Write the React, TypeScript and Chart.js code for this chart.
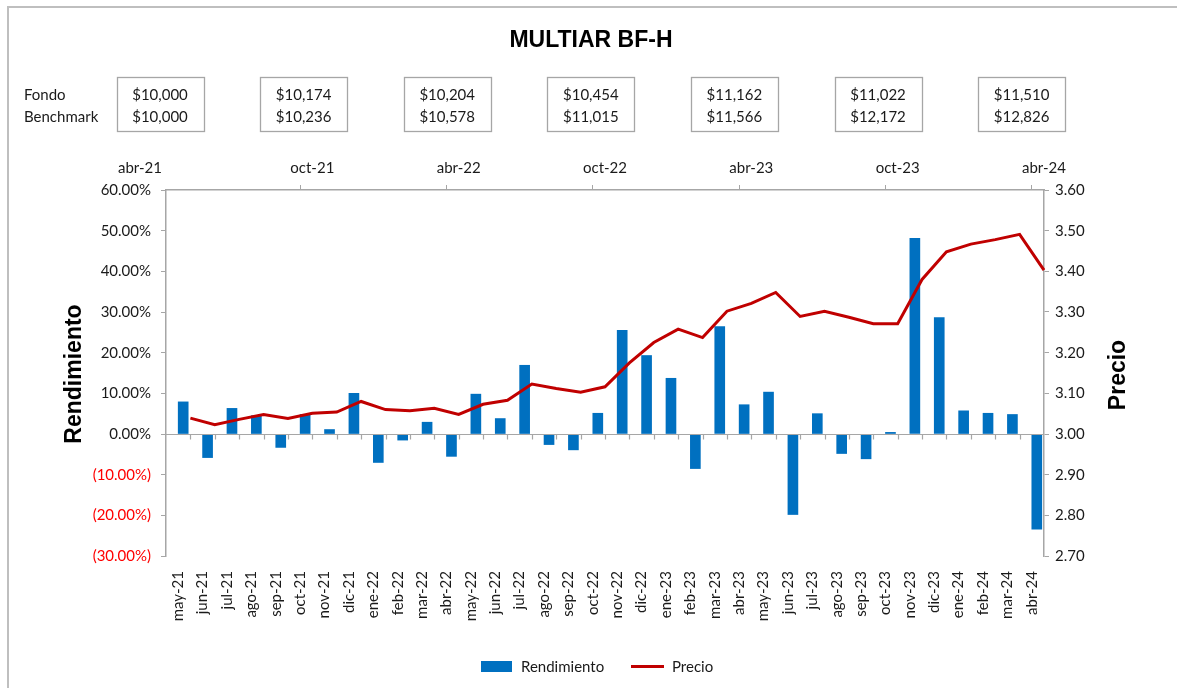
import React, { useEffect, useRef } from "react";
import { Chart, registerables } from "chart.js";

Chart.register(...registerables);

const chartTitle = "MULTIAR BF-H";
const months = [
  "may-21", "jun-21", "jul-21", "ago-21", "sep-21", "oct-21", "nov-21", "dic-21",
  "ene-22", "feb-22", "mar-22", "abr-22", "may-22", "jun-22", "jul-22", "ago-22",
  "sep-22", "oct-22", "nov-22", "dic-22", "ene-23", "feb-23", "mar-23", "abr-23",
  "may-23", "jun-23", "jul-23", "ago-23", "sep-23", "oct-23", "nov-23", "dic-23",
  "ene-24", "feb-24", "mar-24", "abr-24",
];
const startMonth = "abr-21";
const topAxisLabels = [startMonth, ...months];

const rendimiento = [
  0.079, -0.058, 0.063, 0.045, -0.033, 0.048, 0.011, 0.1, -0.07, -0.015, 0.029, -0.055,
  0.098, 0.038, 0.169, -0.026, -0.039, 0.051, 0.255, 0.193, 0.137, -0.085, 0.264, 0.072,
  0.103, -0.198, 0.05, -0.048, -0.061, 0.004, 0.481, 0.286, 0.057, 0.051, 0.048, -0.234,
];
const precio = [
  3.039, 3.023, 3.036, 3.048, 3.038, 3.051, 3.054, 3.08, 3.06, 3.057, 3.063, 3.048,
  3.073, 3.083, 3.123, 3.112, 3.103, 3.116, 3.175, 3.225, 3.258, 3.237, 3.302, 3.321,
  3.348, 3.289, 3.302, 3.287, 3.271, 3.271, 3.38, 3.448, 3.467, 3.478, 3.491, 3.403,
];

const boxDates = ["abr-21", "oct-21", "abr-22", "oct-22", "abr-23", "oct-23", "abr-24"];
const fondoValues = [10000, 10174, 10204, 10454, 11162, 11022, 11510];
const benchmarkValues = [10000, 10236, 10578, 11015, 11566, 12172, 12826];
const rowLabels = ["Fondo", "Benchmark"];

const yLeftTicks = { min: -0.3, max: 0.6, step: 0.1 };
const yRightTicks = { min: 2.7, max: 3.6, step: 0.1 };

const W = 1177;
const H = 688;
const BLUE = "#0070C0";
const RED = "#C00000";
const AXIS = "#a6a6a6";
const TXT = "#1a1a1a";
const FONT = "Lato";
const BOLD = "'Liberation Sans', Arial, sans-serif";

const money = (v: number) => "$" + v.toLocaleString("en-US");

const decorPlugin = {
  id: "decor",
  beforeDraw(chart: any) {
    const ctx = chart.ctx;
    ctx.save();
    ctx.fillStyle = "#fff";
    ctx.fillRect(0, 0, W, H);
    ctx.strokeStyle = "#bfbfbf";
    ctx.lineWidth = 2;
    ctx.beginPath();
    ctx.moveTo(8, H);
    ctx.lineTo(8, 7);
    ctx.lineTo(W, 7);
    ctx.stroke();
    ctx.restore();
  },
  afterDatasetsDraw(chart: any) {
    const ctx = chart.ctx;
    const x = chart.scales.x;
    const y = chart.scales.y;
    const area = chart.chartArea;
    const y0 = Math.round(y.getPixelForValue(0)) + 0.5;
    ctx.save();
    ctx.strokeStyle = AXIS;
    ctx.lineWidth = 1.2;
    ctx.beginPath();
    ctx.moveTo(area.left, y0);
    ctx.lineTo(area.right, y0);
    for (let i = 1; i < months.length; i++) {
      const px = (x.getPixelForValue(i - 1) + x.getPixelForValue(i)) / 2;
      ctx.moveTo(Math.round(px) + 0.5, y0);
      ctx.lineTo(Math.round(px) + 0.5, y0 + 5);
    }
    ctx.stroke();
    ctx.restore();
  },
  afterDraw(chart: any) {
    const ctx = chart.ctx;
    const area = chart.chartArea;
    ctx.save();
    // Title
    ctx.fillStyle = "#000";
    ctx.font = `bold 23px ${BOLD}`;
    ctx.textAlign = "center";
    ctx.textBaseline = "middle";
    ctx.fillText(chartTitle, 591, 41);

    // First top-axis label (shifted left of the axis corner, as in the original)
    ctx.font = `15px ${FONT}`;
    ctx.fillStyle = TXT;
    ctx.fillText(topAxisLabels[0], area.left - 26, 168);

    // Row labels
    ctx.textAlign = "left";
    ctx.fillText(rowLabels[0], 24, 95);
    ctx.fillText(rowLabels[1], 24, 117);

    // Value boxes
    for (let i = 0; i < boxDates.length; i++) {
      const cx = 160 + i * 143.6;
      const bw = 87;
      const bh = 54;
      const top = 77;
      ctx.strokeStyle = AXIS;
      ctx.lineWidth = 1.3;
      ctx.strokeRect(Math.round(cx - bw / 2) + 0.5, top + 0.5, bw, bh);
      ctx.fillStyle = TXT;
      ctx.textAlign = "center";
      ctx.font = `15px ${FONT}`;
      ctx.fillText(money(fondoValues[i]), cx, 95);
      ctx.fillText(money(benchmarkValues[i]), cx, 117);
    }

    // Axis titles
    ctx.fillStyle = "#000";
    ctx.font = `bold 23px ${BOLD}`;
    ctx.textAlign = "center";
    ctx.textBaseline = "middle";
    ctx.save();
    ctx.translate(75, 374);
    ctx.rotate(-Math.PI / 2);
    ctx.fillText("Rendimiento", 0, 0);
    ctx.restore();
    ctx.save();
    ctx.translate(1119, 375);
    ctx.rotate(-Math.PI / 2);
    ctx.fillText("Precio", 0, 0);
    ctx.restore();

    // Legend
    const ds = chart.data.datasets;
    ctx.fillStyle = BLUE;
    ctx.fillRect(481, 661, 31, 11);
    ctx.fillStyle = TXT;
    ctx.font = `15px ${FONT}`;
    ctx.textAlign = "left";
    ctx.fillText(ds[1].label, 521, 667);
    ctx.strokeStyle = RED;
    ctx.lineWidth = 3;
    ctx.beginPath();
    ctx.moveTo(631, 666.5);
    ctx.lineTo(664, 666.5);
    ctx.stroke();
    ctx.fillText(ds[0].label, 672, 667);
    ctx.restore();
  },
};

export default function App() {
  const ref = useRef<HTMLCanvasElement | null>(null);

  useEffect(() => {
    if (!ref.current) return;
    const chart = new Chart(ref.current, {
      type: "bar",
      data: {
        labels: months,
        datasets: [
          {
            type: "line",
            label: "Precio",
            data: [null, ...precio],
            xAxisID: "xTop",
            yAxisID: "y1",
            borderColor: RED,
            backgroundColor: RED,
            borderWidth: 3,
            pointRadius: 0,
            tension: 0,
            order: 0,
          } as any,
          {
            type: "bar",
            label: "Rendimiento",
            data: rendimiento,
            xAxisID: "x",
            yAxisID: "y",
            backgroundColor: BLUE,
            borderWidth: 0,
            barThickness: 10,
            order: 1,
          } as any,
        ],
      },
      options: {
        responsive: false,
        animation: false,
        layout: { padding: 0 },
        plugins: {
          legend: { display: false },
          tooltip: { enabled: false },
          title: { display: false },
        },
        scales: {
          x: {
            type: "category",
            position: "bottom",
            offset: true,
            grid: { display: false },
            border: { display: false },
            ticks: {
              autoSkip: false,
              maxRotation: 90,
              minRotation: 90,
              padding: 7,
              color: TXT,
              font: { family: FONT, size: 15 },
            },
            afterFit: (s: any) => {
              s.height = H - 556;
            },
          },
          xTop: {
            type: "category",
            position: "top",
            labels: topAxisLabels,
            offset: false,
            grid: {
              drawOnChartArea: false,
              drawTicks: true,
              tickLength: 5,
              tickColor: (c: any) => (c.index % 6 === 0 ? AXIS : "rgba(0,0,0,0)"),
              color: "rgba(0,0,0,0)",
            },
            border: { display: true, color: AXIS, width: 1.5 },
            ticks: {
              autoSkip: false,
              maxRotation: 0,
              minRotation: 0,
              padding: 8,
              color: TXT,
              font: { family: FONT, size: 15 },
              callback: (_v: any, i: number) => (i > 0 && i % 6 === 0 ? topAxisLabels[i] : ""),
            },
            afterFit: (s: any) => {
              s.height = 190;
            },
          },
          y: {
            type: "linear",
            position: "left",
            min: yLeftTicks.min,
            max: yLeftTicks.max,
            grid: {
              drawOnChartArea: false,
              tickLength: 5,
              color: AXIS,
            },
            border: { display: true, color: AXIS, width: 1.5 },
            ticks: {
              stepSize: yLeftTicks.step,
              padding: 10,
              font: { family: FONT, size: 15 },
              color: (c: any) => (c.tick && c.tick.value < -1e-9 ? "#ff0000" : TXT),
              callback: (v: any) => {
                const n = Number(v);
                const s = (Math.abs(n) * 100).toFixed(2) + "%";
                return n < -1e-9 ? `(${s})` : s;
              },
            },
            afterFit: (s: any) => {
              s.width = 166;
            },
          },
          y1: {
            type: "linear",
            position: "right",
            min: yRightTicks.min,
            max: yRightTicks.max,
            grid: {
              drawOnChartArea: false,
              tickLength: 5,
              color: AXIS,
            },
            border: { display: true, color: AXIS, width: 1.5 },
            ticks: {
              stepSize: yRightTicks.step,
              padding: 6,
              color: TXT,
              font: { family: FONT, size: 15 },
              callback: (v: any) => Number(v).toFixed(2),
            },
            afterFit: (s: any) => {
              s.width = W - 1044;
            },
          },
        },
      } as any,
      plugins: [decorPlugin],
    });
    return () => chart.destroy();
  }, []);

  return (
    <div style={{ position: "fixed", left: 0, top: 0, width: W, height: H, background: "#fff" }}>
      <canvas ref={ref} width={W} height={H} style={{ display: "block" }} />
    </div>
  );
}
